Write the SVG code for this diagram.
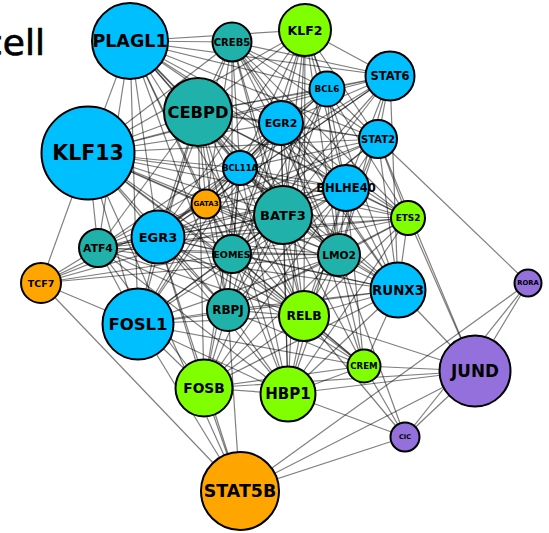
<svg xmlns="http://www.w3.org/2000/svg" width="549" height="533" viewBox="0 0 549 533">
<style>
  #edges line { stroke: #000; stroke-opacity: 0.5; stroke-width: 1.2; }
  .node circle { stroke: #000; stroke-width: 2; }
  .node text { font-family: "DejaVu Sans", "Liberation Sans", sans-serif; font-weight: bold; text-anchor: middle; dominant-baseline: central; fill: #000; }
  .blue { fill: #00BFFF; }
  .teal { fill: #20B2AA; }
  .green { fill: #7FFF00; }
  .orange { fill: #FFA500; }
  .purple { fill: #9370DB; }
  .title { font-family: "DejaVu Sans", sans-serif; font-size: 36px; fill: #000; stroke: #000; stroke-width: 0.7; }
</style>
<rect width="549" height="533" fill="#fff"/>
<text class="title" x="45" y="55" text-anchor="end">cell</text>
<g id="edges">
  <!-- PLAGL1 -->
  <line x1="130" y1="41" x2="232" y2="42"/><line x1="130" y1="41" x2="305" y2="30"/><line x1="130" y1="41" x2="327" y2="89"/><line x1="130" y1="41" x2="390" y2="76"/><line x1="130" y1="41" x2="281" y2="123"/><line x1="130" y1="41" x2="198" y2="112"/><line x1="130" y1="41" x2="88" y2="153"/><line x1="130" y1="41" x2="240" y2="168"/><line x1="130" y1="41" x2="283" y2="215"/><line x1="130" y1="41" x2="346" y2="188"/><line x1="130" y1="41" x2="378" y2="139"/><line x1="130" y1="41" x2="206" y2="204"/><line x1="130" y1="41" x2="158" y2="237"/><line x1="130" y1="41" x2="98" y2="248"/><line x1="130" y1="41" x2="138" y2="324"/><line x1="130" y1="41" x2="232" y2="254"/><line x1="130" y1="41" x2="339" y2="255"/><line x1="130" y1="41" x2="228" y2="310"/><line x1="130" y1="41" x2="304" y2="316"/><line x1="130" y1="41" x2="408" y2="218"/>
  <!-- CREB5 -->
  <line x1="232" y1="42" x2="88" y2="153"/><line x1="232" y1="42" x2="198" y2="112"/><line x1="232" y1="42" x2="327" y2="89"/><line x1="232" y1="42" x2="390" y2="76"/><line x1="232" y1="42" x2="281" y2="123"/><line x1="232" y1="42" x2="240" y2="168"/><line x1="232" y1="42" x2="283" y2="215"/><line x1="232" y1="42" x2="346" y2="188"/><line x1="232" y1="42" x2="378" y2="139"/><line x1="232" y1="42" x2="232" y2="254"/><line x1="232" y1="42" x2="339" y2="255"/><line x1="232" y1="42" x2="398" y2="290"/><line x1="232" y1="42" x2="206" y2="204"/><line x1="232" y1="42" x2="158" y2="237"/><line x1="232" y1="42" x2="304" y2="316"/><line x1="232" y1="42" x2="408" y2="218"/>
  <!-- KLF2 -->
  <line x1="305" y1="30" x2="327" y2="89"/><line x1="305" y1="30" x2="390" y2="76"/><line x1="305" y1="30" x2="281" y2="123"/><line x1="305" y1="30" x2="378" y2="139"/><line x1="305" y1="30" x2="198" y2="112"/><line x1="305" y1="30" x2="88" y2="153"/><line x1="305" y1="30" x2="240" y2="168"/><line x1="305" y1="30" x2="283" y2="215"/><line x1="305" y1="30" x2="346" y2="188"/><line x1="305" y1="30" x2="339" y2="255"/><line x1="305" y1="30" x2="232" y2="254"/><line x1="305" y1="30" x2="398" y2="290"/><line x1="305" y1="30" x2="304" y2="316"/><line x1="305" y1="30" x2="288" y2="394"/><line x1="305" y1="30" x2="158" y2="237"/>
  <!-- STAT6 -->
  <line x1="390" y1="76" x2="327" y2="89"/><line x1="390" y1="76" x2="281" y2="123"/><line x1="390" y1="76" x2="378" y2="139"/><line x1="390" y1="76" x2="198" y2="112"/><line x1="390" y1="76" x2="88" y2="153"/><line x1="390" y1="76" x2="240" y2="168"/><line x1="390" y1="76" x2="283" y2="215"/><line x1="390" y1="76" x2="346" y2="188"/><line x1="390" y1="76" x2="398" y2="290"/><line x1="390" y1="76" x2="339" y2="255"/><line x1="390" y1="76" x2="158" y2="237"/><line x1="390" y1="76" x2="206" y2="204"/><line x1="390" y1="76" x2="232" y2="254"/>
  <!-- BCL6 -->
  <line x1="327" y1="89" x2="281" y2="123"/><line x1="327" y1="89" x2="378" y2="139"/><line x1="327" y1="89" x2="198" y2="112"/><line x1="327" y1="89" x2="88" y2="153"/><line x1="327" y1="89" x2="240" y2="168"/><line x1="327" y1="89" x2="283" y2="215"/><line x1="327" y1="89" x2="346" y2="188"/><line x1="327" y1="89" x2="408" y2="218"/><line x1="327" y1="89" x2="339" y2="255"/><line x1="327" y1="89" x2="158" y2="237"/><line x1="327" y1="89" x2="232" y2="254"/><line x1="327" y1="89" x2="228" y2="310"/>
  <!-- EGR2 -->
  <line x1="281" y1="123" x2="378" y2="139"/><line x1="281" y1="123" x2="198" y2="112"/><line x1="281" y1="123" x2="88" y2="153"/><line x1="281" y1="123" x2="240" y2="168"/><line x1="281" y1="123" x2="283" y2="215"/><line x1="281" y1="123" x2="346" y2="188"/><line x1="281" y1="123" x2="408" y2="218"/><line x1="281" y1="123" x2="339" y2="255"/><line x1="281" y1="123" x2="158" y2="237"/><line x1="281" y1="123" x2="98" y2="248"/><line x1="281" y1="123" x2="232" y2="254"/><line x1="281" y1="123" x2="206" y2="204"/><line x1="281" y1="123" x2="398" y2="290"/><line x1="281" y1="123" x2="228" y2="310"/><line x1="281" y1="123" x2="304" y2="316"/><line x1="281" y1="123" x2="138" y2="324"/><line x1="281" y1="123" x2="288" y2="394"/><line x1="281" y1="123" x2="364" y2="366"/>
  <!-- STAT2 -->
  <line x1="378" y1="139" x2="198" y2="112"/><line x1="378" y1="139" x2="88" y2="153"/><line x1="378" y1="139" x2="240" y2="168"/><line x1="378" y1="139" x2="283" y2="215"/><line x1="378" y1="139" x2="346" y2="188"/><line x1="378" y1="139" x2="408" y2="218"/><line x1="378" y1="139" x2="339" y2="255"/><line x1="378" y1="139" x2="398" y2="290"/><line x1="378" y1="139" x2="158" y2="237"/><line x1="378" y1="139" x2="232" y2="254"/><line x1="378" y1="139" x2="528" y2="283"/><line x1="378" y1="139" x2="475" y2="371"/><line x1="378" y1="139" x2="304" y2="316"/><line x1="378" y1="139" x2="206" y2="204"/>
  <!-- CEBPD -->
  <line x1="198" y1="112" x2="88" y2="153"/><line x1="198" y1="112" x2="240" y2="168"/><line x1="198" y1="112" x2="206" y2="204"/><line x1="198" y1="112" x2="283" y2="215"/><line x1="198" y1="112" x2="346" y2="188"/><line x1="198" y1="112" x2="158" y2="237"/><line x1="198" y1="112" x2="98" y2="248"/><line x1="198" y1="112" x2="232" y2="254"/><line x1="198" y1="112" x2="339" y2="255"/><line x1="198" y1="112" x2="138" y2="324"/><line x1="198" y1="112" x2="228" y2="310"/><line x1="198" y1="112" x2="304" y2="316"/><line x1="198" y1="112" x2="398" y2="290"/><line x1="198" y1="112" x2="408" y2="218"/><line x1="198" y1="112" x2="204" y2="388"/><line x1="198" y1="112" x2="288" y2="394"/>
  <!-- KLF13 -->
  <line x1="88" y1="153" x2="240" y2="168"/><line x1="88" y1="153" x2="206" y2="204"/><line x1="88" y1="153" x2="283" y2="215"/><line x1="88" y1="153" x2="346" y2="188"/><line x1="88" y1="153" x2="158" y2="237"/><line x1="88" y1="153" x2="98" y2="248"/><line x1="88" y1="153" x2="232" y2="254"/><line x1="88" y1="153" x2="339" y2="255"/><line x1="88" y1="153" x2="138" y2="324"/><line x1="88" y1="153" x2="41" y2="283"/><line x1="88" y1="153" x2="228" y2="310"/><line x1="88" y1="153" x2="304" y2="316"/><line x1="88" y1="153" x2="398" y2="290"/><line x1="88" y1="153" x2="408" y2="218"/><line x1="88" y1="153" x2="364" y2="366"/><line x1="88" y1="153" x2="240" y2="491"/>
  <!-- BCL11A -->
  <line x1="240" y1="168" x2="206" y2="204"/><line x1="240" y1="168" x2="283" y2="215"/><line x1="240" y1="168" x2="346" y2="188"/><line x1="240" y1="168" x2="158" y2="237"/><line x1="240" y1="168" x2="98" y2="248"/><line x1="240" y1="168" x2="232" y2="254"/><line x1="240" y1="168" x2="339" y2="255"/><line x1="240" y1="168" x2="138" y2="324"/><line x1="240" y1="168" x2="228" y2="310"/><line x1="240" y1="168" x2="304" y2="316"/><line x1="240" y1="168" x2="398" y2="290"/><line x1="240" y1="168" x2="408" y2="218"/><line x1="240" y1="168" x2="288" y2="394"/><line x1="240" y1="168" x2="204" y2="388"/>
  <!-- GATA3 -->
  <line x1="206" y1="204" x2="283" y2="215"/><line x1="206" y1="204" x2="158" y2="237"/><line x1="206" y1="204" x2="98" y2="248"/><line x1="206" y1="204" x2="232" y2="254"/><line x1="206" y1="204" x2="339" y2="255"/><line x1="206" y1="204" x2="138" y2="324"/><line x1="206" y1="204" x2="228" y2="310"/><line x1="206" y1="204" x2="304" y2="316"/><line x1="206" y1="204" x2="346" y2="188"/><line x1="206" y1="204" x2="41" y2="283"/>
  <!-- BATF3 -->
  <line x1="283" y1="215" x2="346" y2="188"/><line x1="283" y1="215" x2="408" y2="218"/><line x1="283" y1="215" x2="158" y2="237"/><line x1="283" y1="215" x2="98" y2="248"/><line x1="283" y1="215" x2="232" y2="254"/><line x1="283" y1="215" x2="339" y2="255"/><line x1="283" y1="215" x2="398" y2="290"/><line x1="283" y1="215" x2="138" y2="324"/><line x1="283" y1="215" x2="228" y2="310"/><line x1="283" y1="215" x2="304" y2="316"/><line x1="283" y1="215" x2="204" y2="388"/><line x1="283" y1="215" x2="288" y2="394"/><line x1="283" y1="215" x2="364" y2="366"/><line x1="283" y1="215" x2="41" y2="283"/>
  <!-- BHLHE40 -->
  <line x1="346" y1="188" x2="408" y2="218"/><line x1="346" y1="188" x2="158" y2="237"/><line x1="346" y1="188" x2="98" y2="248"/><line x1="346" y1="188" x2="232" y2="254"/><line x1="346" y1="188" x2="339" y2="255"/><line x1="346" y1="188" x2="398" y2="290"/><line x1="346" y1="188" x2="138" y2="324"/><line x1="346" y1="188" x2="228" y2="310"/><line x1="346" y1="188" x2="304" y2="316"/><line x1="346" y1="188" x2="204" y2="388"/><line x1="346" y1="188" x2="288" y2="394"/><line x1="346" y1="188" x2="364" y2="366"/>
  <!-- ETS2 -->
  <line x1="408" y1="218" x2="339" y2="255"/><line x1="408" y1="218" x2="398" y2="290"/><line x1="408" y1="218" x2="232" y2="254"/><line x1="408" y1="218" x2="158" y2="237"/><line x1="408" y1="218" x2="228" y2="310"/><line x1="408" y1="218" x2="304" y2="316"/><line x1="408" y1="218" x2="288" y2="394"/><line x1="408" y1="218" x2="475" y2="371"/><line x1="408" y1="218" x2="98" y2="248"/>
  <!-- EGR3 -->
  <line x1="158" y1="237" x2="98" y2="248"/><line x1="158" y1="237" x2="232" y2="254"/><line x1="158" y1="237" x2="339" y2="255"/><line x1="158" y1="237" x2="398" y2="290"/><line x1="158" y1="237" x2="138" y2="324"/><line x1="158" y1="237" x2="228" y2="310"/><line x1="158" y1="237" x2="304" y2="316"/><line x1="158" y1="237" x2="204" y2="388"/><line x1="158" y1="237" x2="288" y2="394"/><line x1="158" y1="237" x2="364" y2="366"/><line x1="158" y1="237" x2="41" y2="283"/><line x1="158" y1="237" x2="240" y2="491"/>
  <!-- ATF4 -->
  <line x1="98" y1="248" x2="232" y2="254"/><line x1="98" y1="248" x2="339" y2="255"/><line x1="98" y1="248" x2="138" y2="324"/><line x1="98" y1="248" x2="228" y2="310"/><line x1="98" y1="248" x2="304" y2="316"/><line x1="98" y1="248" x2="398" y2="290"/><line x1="98" y1="248" x2="204" y2="388"/><line x1="98" y1="248" x2="288" y2="394"/><line x1="98" y1="248" x2="41" y2="283"/>
  <!-- EOMES -->
  <line x1="232" y1="254" x2="339" y2="255"/><line x1="232" y1="254" x2="398" y2="290"/><line x1="232" y1="254" x2="138" y2="324"/><line x1="232" y1="254" x2="228" y2="310"/><line x1="232" y1="254" x2="304" y2="316"/><line x1="232" y1="254" x2="204" y2="388"/><line x1="232" y1="254" x2="288" y2="394"/><line x1="232" y1="254" x2="364" y2="366"/><line x1="232" y1="254" x2="41" y2="283"/>
  <!-- LMO2 -->
  <line x1="339" y1="255" x2="398" y2="290"/><line x1="339" y1="255" x2="138" y2="324"/><line x1="339" y1="255" x2="228" y2="310"/><line x1="339" y1="255" x2="304" y2="316"/><line x1="339" y1="255" x2="204" y2="388"/><line x1="339" y1="255" x2="288" y2="394"/><line x1="339" y1="255" x2="364" y2="366"/><line x1="339" y1="255" x2="405" y2="437"/><line x1="339" y1="255" x2="41" y2="283"/>
  <!-- RUNX3 -->
  <line x1="398" y1="290" x2="138" y2="324"/><line x1="398" y1="290" x2="228" y2="310"/><line x1="398" y1="290" x2="304" y2="316"/><line x1="398" y1="290" x2="204" y2="388"/><line x1="398" y1="290" x2="288" y2="394"/><line x1="398" y1="290" x2="364" y2="366"/><line x1="398" y1="290" x2="475" y2="371"/>
  <!-- FOSL1 -->
  <line x1="138" y1="324" x2="228" y2="310"/><line x1="138" y1="324" x2="304" y2="316"/><line x1="138" y1="324" x2="204" y2="388"/><line x1="138" y1="324" x2="288" y2="394"/><line x1="138" y1="324" x2="41" y2="283"/><line x1="138" y1="324" x2="240" y2="491"/><line x1="138" y1="324" x2="364" y2="366"/>
  <!-- RBPJ -->
  <line x1="228" y1="310" x2="304" y2="316"/><line x1="228" y1="310" x2="204" y2="388"/><line x1="228" y1="310" x2="288" y2="394"/><line x1="228" y1="310" x2="364" y2="366"/><line x1="228" y1="310" x2="240" y2="491"/>
  <!-- RELB -->
  <line x1="304" y1="316" x2="204" y2="388"/><line x1="304" y1="316" x2="288" y2="394"/><line x1="304" y1="316" x2="364" y2="366"/><line x1="304" y1="316" x2="475" y2="371"/><line x1="304" y1="316" x2="405" y2="437"/>
  <!-- CREM -->
  <line x1="364" y1="366" x2="204" y2="388"/><line x1="364" y1="366" x2="288" y2="394"/><line x1="364" y1="366" x2="475" y2="371"/><line x1="364" y1="366" x2="405" y2="437"/>
  <!-- FOSB, HBP1 -->
  <line x1="204" y1="388" x2="288" y2="394"/><line x1="204" y1="388" x2="475" y2="371"/><line x1="204" y1="388" x2="240" y2="491"/>
  <line x1="288" y1="394" x2="475" y2="371"/><line x1="288" y1="394" x2="405" y2="437"/>
  <!-- JUND, RORA, CIC, TCF7 -->
  <line x1="475" y1="371" x2="405" y2="437"/><line x1="475" y1="371" x2="528" y2="283"/><line x1="475" y1="371" x2="240" y2="491"/>
  <line x1="528" y1="283" x2="405" y2="437"/><line x1="528" y1="283" x2="240" y2="491"/>
  <line x1="405" y1="437" x2="240" y2="491"/>
  <line x1="41" y1="283" x2="240" y2="491"/>
</g>
<g id="nodes">
  <g id="PLAGL1" class="node"><circle class="blue" cx="130" cy="41" r="38"/><text x="130" y="41" font-size="17.5">PLAGL1</text></g>
  <g id="CREB5" class="node"><circle class="teal" cx="232" cy="42" r="19.5"/><text x="232" y="42" font-size="10">CREB5</text></g>
  <g id="KLF2" class="node"><circle class="green" cx="305" cy="30" r="26"/><text x="305" y="30" font-size="12.5">KLF2</text></g>
  <g id="STAT6" class="node"><circle class="blue" cx="390" cy="76" r="24.5"/><text x="390" y="76" font-size="11.5">STAT6</text></g>
  <g id="BCL6" class="node"><circle class="blue" cx="327" cy="89" r="17.5"/><text x="327" y="89" font-size="8.8">BCL6</text></g>
  <g id="EGR2" class="node"><circle class="blue" cx="281" cy="123" r="22"/><text x="281" y="123" font-size="11">EGR2</text></g>
  <g id="STAT2" class="node"><circle class="blue" cx="378" cy="139" r="19"/><text x="378" y="139" font-size="10">STAT2</text></g>
  <g id="CEBPD" class="node"><circle class="teal" cx="198" cy="112" r="34"/><text x="198" y="112" font-size="16.3">CEBPD</text></g>
  <g id="KLF13" class="node"><circle class="blue" cx="88" cy="153" r="46.5"/><text x="88" y="153" font-size="20.5">KLF13</text></g>
  <g id="BCL11A" class="node"><circle class="blue" cx="240" cy="168" r="17"/><text x="240" y="168" font-size="8.3">BCL11A</text></g>
  <g id="GATA3" class="node"><circle class="orange" cx="206" cy="204" r="14.5"/><text x="206" y="204" font-size="7">GATA3</text></g>
  <g id="BATF3" class="node"><circle class="teal" cx="283" cy="215" r="29"/><text x="283" y="215" font-size="13">BATF3</text></g>
  <g id="BHLHE40" class="node"><circle class="blue" cx="346" cy="188" r="23"/><text x="346" y="188" font-size="11.6">BHLHE40</text></g>
  <g id="ETS2" class="node"><circle class="green" cx="408" cy="218" r="17"/><text x="408" y="218" font-size="8.9">ETS2</text></g>
  <g id="EGR3" class="node"><circle class="blue" cx="158" cy="237" r="26.5"/><text x="158" y="237" font-size="13">EGR3</text></g>
  <g id="ATF4" class="node"><circle class="teal" cx="98" cy="248" r="19"/><text x="98" y="248" font-size="10.8">ATF4</text></g>
  <g id="EOMES" class="node"><circle class="teal" cx="232" cy="254" r="19"/><text x="232" y="254" font-size="9.5">EOMES</text></g>
  <g id="LMO2" class="node"><circle class="teal" cx="339" cy="255" r="21"/><text x="339" y="255" font-size="10.6">LMO2</text></g>
  <g id="TCF7" class="node"><circle class="orange" cx="41" cy="283" r="20"/><text x="41" y="283" font-size="9.5">TCF7</text></g>
  <g id="RUNX3" class="node"><circle class="blue" cx="398" cy="290" r="27.5"/><text x="398" y="290" font-size="13.4">RUNX3</text></g>
  <g id="RORA" class="node"><circle class="purple" cx="528" cy="283" r="13.5"/><text x="528" y="283" font-size="6.8">RORA</text></g>
  <g id="FOSL1" class="node"><circle class="blue" cx="138" cy="324" r="35.5"/><text x="138" y="324" font-size="16.5">FOSL1</text></g>
  <g id="RBPJ" class="node"><circle class="teal" cx="228" cy="310" r="21"/><text x="228" y="310" font-size="12">RBPJ</text></g>
  <g id="RELB" class="node"><circle class="green" cx="304" cy="316" r="25"/><text x="304" y="316" font-size="12.3">RELB</text></g>
  <g id="CREM" class="node"><circle class="green" cx="364" cy="366" r="16.5"/><text x="364" y="366" font-size="8.6">CREM</text></g>
  <g id="JUND" class="node"><circle class="purple" cx="475" cy="371" r="35.5"/><text x="475" y="371" font-size="16.8">JUND</text></g>
  <g id="FOSB" class="node"><circle class="green" cx="204" cy="388" r="28.5"/><text x="204" y="388" font-size="13.7">FOSB</text></g>
  <g id="HBP1" class="node"><circle class="green" cx="288" cy="394" r="27.5"/><text x="288" y="394" font-size="15">HBP1</text></g>
  <g id="CIC" class="node"><circle class="purple" cx="405" cy="437" r="14.5"/><text x="405" y="437" font-size="6.5">CIC</text></g>
  <g id="STAT5B" class="node"><circle class="orange" cx="240" cy="491" r="39"/><text x="240" y="491" font-size="17.4">STAT5B</text></g>
</g>
</svg>
